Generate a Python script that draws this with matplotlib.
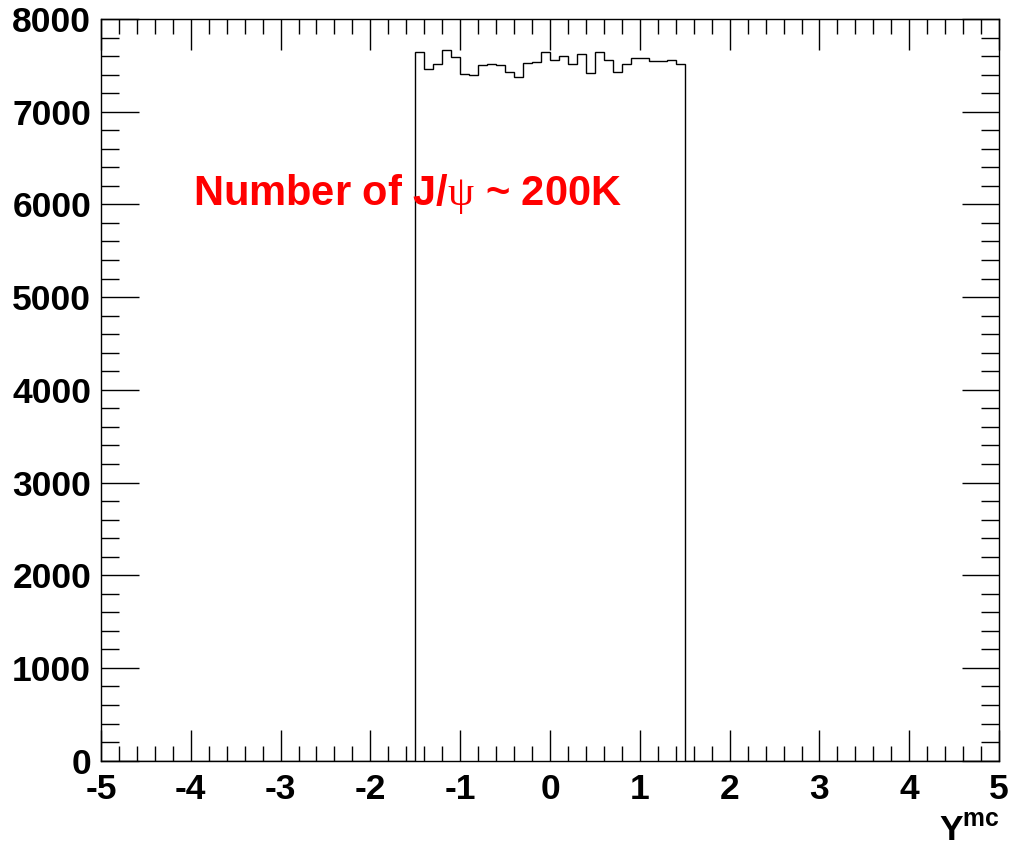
import numpy as np
import matplotlib
matplotlib.use("Agg")
import matplotlib.pyplot as plt
from matplotlib.ticker import MultipleLocator

plt.rcParams['font.family'] = ['Liberation Sans', 'DejaVu Sans']
plt.rcParams['mathtext.fontset'] = 'custom'
plt.rcParams['mathtext.rm'] = 'Liberation Serif'
plt.rcParams['mathtext.bf'] = 'Liberation Sans:bold'

# ---- histogram data: 100 bins over [-5, 5] ----
bin_edges = np.linspace(-5, 5, 101)
filled_low = -1.5          # first filled bin edge
filled_counts = [7641, 7457, 7511, 7666, 7587, 7407, 7396, 7504, 7518, 7507,
                 7428, 7378, 7522, 7536, 7644, 7555, 7597, 7514, 7619, 7414,
                 7641, 7558, 7432, 7514, 7576, 7576, 7547, 7547, 7558, 7514]
counts = np.zeros(100)
i0 = int(round((filled_low + 5) / 0.1))
counts[i0:i0 + len(filled_counts)] = filled_counts

x_ticks = np.arange(-5, 6, 1)
y_ticks = np.arange(0, 8001, 1000)

fig = plt.figure(figsize=(10.3, 8.51), dpi=100)
ax = fig.add_axes([0.098, 0.1062, 0.872, 0.8715])

ax.stairs(counts, bin_edges, color='black', linewidth=1.0, baseline=0)

ax.set_xlim(-5, 5)
ax.set_ylim(0, 8000)
ax.xaxis.set_minor_locator(MultipleLocator(0.2))
ax.yaxis.set_minor_locator(MultipleLocator(200))

for s in ax.spines.values():
    s.set_linewidth(1.0)

ax.tick_params(axis='both', which='both', direction='in', top=True, right=True,
               width=1.0, labelsize=25.5)
ax.tick_params(axis='x', which='major', length=22, pad=9)
ax.tick_params(axis='x', which='minor', length=11)
ax.tick_params(axis='y', which='major', length=27, pad=7)
ax.tick_params(axis='y', which='minor', length=13)
ax.set_xticks(x_ticks)
ax.set_xticklabels([f'{v:d}' for v in x_ticks], fontweight='bold')
ax.set_yticks(y_ticks)
ax.set_yticklabels([f'{v:d}' for v in y_ticks], fontweight='bold')

# axis title in the bottom-right corner
fig.text(0.971, 0.012, r'Y$^{\mathbf{mc}}$', ha='right', va='baseline',
         fontsize=25.5, fontweight='bold')

ax.text(-3.976, 5993, r'Number of J/$\mathrm{\psi}$ ~ 200K', color='red',
        fontsize=30, fontweight='bold', ha='left', va='baseline')

fig.savefig('out.png', dpi=100)
